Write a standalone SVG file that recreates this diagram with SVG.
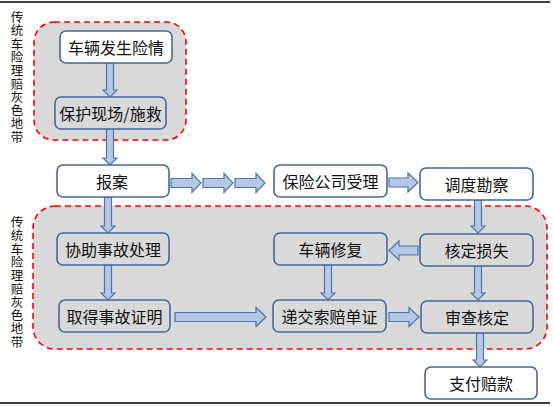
<svg xmlns="http://www.w3.org/2000/svg" width="553" height="407" viewBox="0 0 553 407">
<style>
.zone{fill:#d9d9d9;stroke:#ff0000;stroke-width:1.6;stroke-dasharray:6 4}
.box{stroke:#41699a;stroke-width:1.6}
.w{fill:#ffffff}
.g{fill:#d9d9d9}
.t{font-family:"Noto Sans CJK SC","Noto Sans",sans-serif;font-size:16px;fill:#111;text-anchor:middle;dominant-baseline:central}
.v{font-family:"Noto Sans CJK SC","Noto Sans",sans-serif;font-size:12.5px;fill:#111;text-anchor:middle}
.arr{fill:#b4c7e7;stroke:#4f74a6;stroke-width:1.2;stroke-linejoin:miter}
.rule{stroke:#000;stroke-width:1.6}
</style>
<rect width="553" height="407" fill="#ffffff"/>
<line class="rule" x1="0" y1="2" x2="550" y2="2"/>
<line class="rule" x1="0" y1="403" x2="550" y2="403"/>
<g id="zone-top"><rect class="zone" x="34" y="22" width="152" height="118" rx="20"/></g>
<g id="zone-bottom"><rect class="zone" x="33" y="206" width="514" height="143" rx="22"/></g>
<g id="label-top"><text class="v"><tspan x="17" y="22">传</tspan><tspan x="17" dy="13.3">统</tspan><tspan x="17" dy="13.3">车</tspan><tspan x="17" dy="13.3">险</tspan><tspan x="17" dy="13.3">理</tspan><tspan x="17" dy="13.3">赔</tspan><tspan x="17" dy="13.3">灰</tspan><tspan x="17" dy="13.3">色</tspan><tspan x="17" dy="13.3">地</tspan><tspan x="17" dy="13.3">带</tspan></text></g>
<g id="label-bottom"><text class="v"><tspan x="17" y="227">传</tspan><tspan x="17" dy="13.3">统</tspan><tspan x="17" dy="13.3">车</tspan><tspan x="17" dy="13.3">险</tspan><tspan x="17" dy="13.3">理</tspan><tspan x="17" dy="13.3">赔</tspan><tspan x="17" dy="13.3">灰</tspan><tspan x="17" dy="13.3">色</tspan><tspan x="17" dy="13.3">地</tspan><tspan x="17" dy="13.3">带</tspan></text></g>
<g id="connectors">
<polygon class="arr" points="106.5,63 113.5,63 113.5,90 117,90 110,97 103,90 106.5,90"/>
<polygon class="arr" points="106.5,129 113.5,129 113.5,158 117,158 110,165 103,158 106.5,158"/>
<polygon class="arr" points="104.5,197 111.5,197 111.5,226 115,226 108,233 101,226 104.5,226"/>
<polygon class="arr" points="104.5,265 111.5,265 111.5,293 115,293 108,300 101,293 104.5,293"/>
<polygon class="arr" points="171,178.5 192,178.5 192,173.5 201,183 192,192.5 192,187.5 171,187.5"/>
<polygon class="arr" points="203,178.5 224,178.5 224,173.5 233,183 224,192.5 224,187.5 203,187.5"/>
<polygon class="arr" points="235,178.5 256,178.5 256,173.5 265,183 256,192.5 256,187.5 235,187.5"/>
<polygon class="arr" points="389,178 408,178 408,173 418,182.5 408,192 408,187 389,187"/>
<polygon class="arr" points="474.5,200 481.5,200 481.5,226 485,226 478,233 471,226 474.5,226"/>
<polygon class="arr" points="418,246 399,246 399,241 389,250.5 399,260 399,255 418,255"/>
<polygon class="arr" points="324.5,265 331.5,265 331.5,293 335,293 328,300 321,293 324.5,293"/>
<polygon class="arr" points="175,312.5 256,312.5 256,307.5 266,317 256,326.5 256,321.5 175,321.5"/>
<polygon class="arr" points="389,312.5 409,312.5 409,307.5 419,317 409,326.5 409,321.5 389,321.5"/>
<polygon class="arr" points="474.5,266 481.5,266 481.5,293 485,293 478,300 471,293 474.5,293"/>
<polygon class="arr" points="476.5,333 483.5,333 483.5,360 487,360 480,367 473,360 476.5,360"/>
</g>
<g id="n1"><rect class="box w" x="60" y="31" width="112" height="32" rx="6"/><text class="t" x="116" y="47">车辆发生险情</text></g>
<g id="n2"><rect class="box g" x="55" y="97" width="111" height="32" rx="6"/><text class="t" x="110.5" y="113">保护现场/施救</text></g>
<g id="n3"><rect class="box w" x="57" y="165" width="112" height="32" rx="6"/><text class="t" x="112" y="181">报案</text></g>
<g id="n4"><rect class="box w" x="274" y="165" width="113" height="32" rx="6"/><text class="t" x="330.5" y="181">保险公司受理</text></g>
<g id="n5"><rect class="box w" x="420" y="168" width="113" height="32" rx="6"/><text class="t" x="476.5" y="184">调度勘察</text></g>
<g id="n6"><rect class="box g" x="57" y="233" width="112" height="32" rx="6"/><text class="t" x="113" y="249">协助事故处理</text></g>
<g id="n7"><rect class="box g" x="274" y="233" width="113" height="32" rx="6"/><text class="t" x="330.5" y="249">车辆修复</text></g>
<g id="n8"><rect class="box g" x="420" y="234" width="113" height="32" rx="6"/><text class="t" x="476.5" y="250">核定损失</text></g>
<g id="n9"><rect class="box g" x="59" y="300" width="111" height="32" rx="6"/><text class="t" x="114.5" y="316">取得事故证明</text></g>
<g id="n10"><rect class="box g" x="273" y="300" width="113" height="32" rx="6"/><text class="t" x="329.5" y="316">递交索赔单证</text></g>
<g id="n11"><rect class="box g" x="421" y="301" width="112" height="32" rx="6"/><text class="t" x="477" y="317">审查核定</text></g>
<g id="n12"><rect class="box w" x="425" y="367" width="112" height="32" rx="6"/><text class="t" x="481" y="383">支付赔款</text></g>
</svg>
